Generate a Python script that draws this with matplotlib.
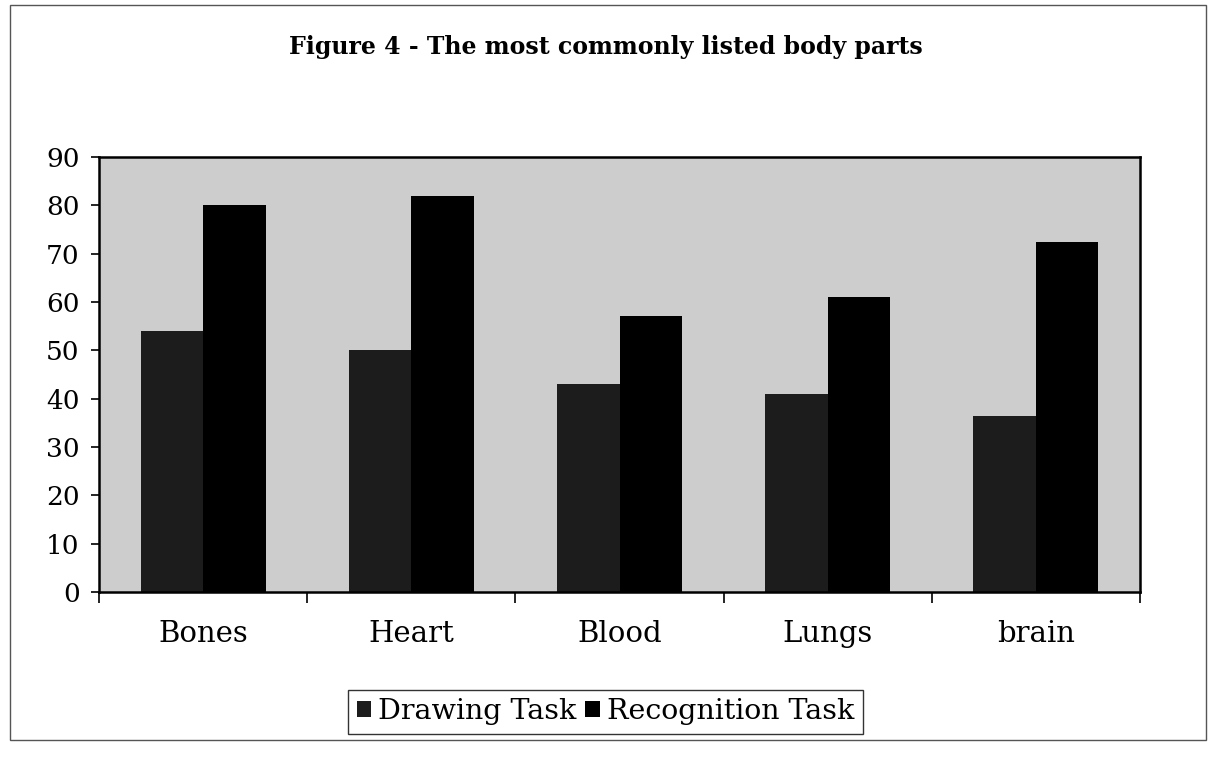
import numpy as np
import matplotlib
matplotlib.use("Agg")
import matplotlib.pyplot as plt
from matplotlib.patches import Rectangle

# data
categories = ["Bones", "Heart", "Blood", "Lungs", "brain"]
drawing_task = [54, 50, 43, 41, 36.5]
recognition_task = [80, 82, 57, 61, 72.5]
y_ticks = list(range(0, 100, 10))

plt.rcParams["font.family"] = ["DejaVu Serif"]

fig = plt.figure(figsize=(12.11, 7.57), dpi=100)
ax = fig.add_axes([0.0818, 0.218, 0.8596, 0.5746])

x = np.arange(len(categories))
w = 0.3
ax.bar(x - w / 2, drawing_task, w, color="#1c1c1c", label="Drawing Task")
ax.bar(x + w / 2, recognition_task, w, color="#000000", label="Recognition Task")

ax.set_facecolor("#cdcdcd")
ax.set_xlim(-0.5, len(categories) - 0.5)
ax.set_ylim(0, 90)
ax.set_yticks(y_ticks)
ax.tick_params(axis="y", labelsize=19, direction="out", length=6, width=1.2, pad=8)

# category labels below, ticks on the boundaries
ax.set_xticks(x)
ax.set_xticklabels(categories, fontsize=21)
ax.tick_params(axis="x", length=0, pad=20)
ax.set_xticks(np.arange(-0.5, len(categories)), minor=True)
ax.tick_params(axis="x", which="minor", direction="out", length=8, width=1.2)

for s in ax.spines.values():
    s.set_linewidth(1.8)
    s.set_color("black")

fig.text(0.5, 0.938, "Figure 4 - The most commonly listed body parts",
         ha="center", va="center", fontsize=17, fontweight="bold")

leg = fig.legend(loc="center", bbox_to_anchor=(0.5, 0.0595), ncol=2, fontsize=20.5,
                 frameon=True, fancybox=False, edgecolor="black",
                 handlelength=0.5, handleheight=0.5, handletextpad=0.25,
                 columnspacing=0.3, borderpad=0.3)
leg.get_frame().set_linewidth(1.0)

# outer chart border
fig.patches.append(Rectangle((0.008, 0.022), 0.988, 0.972, transform=fig.transFigure,
                             fill=False, edgecolor="#555555", linewidth=1.0))

fig.savefig("out.png", dpi=100)
